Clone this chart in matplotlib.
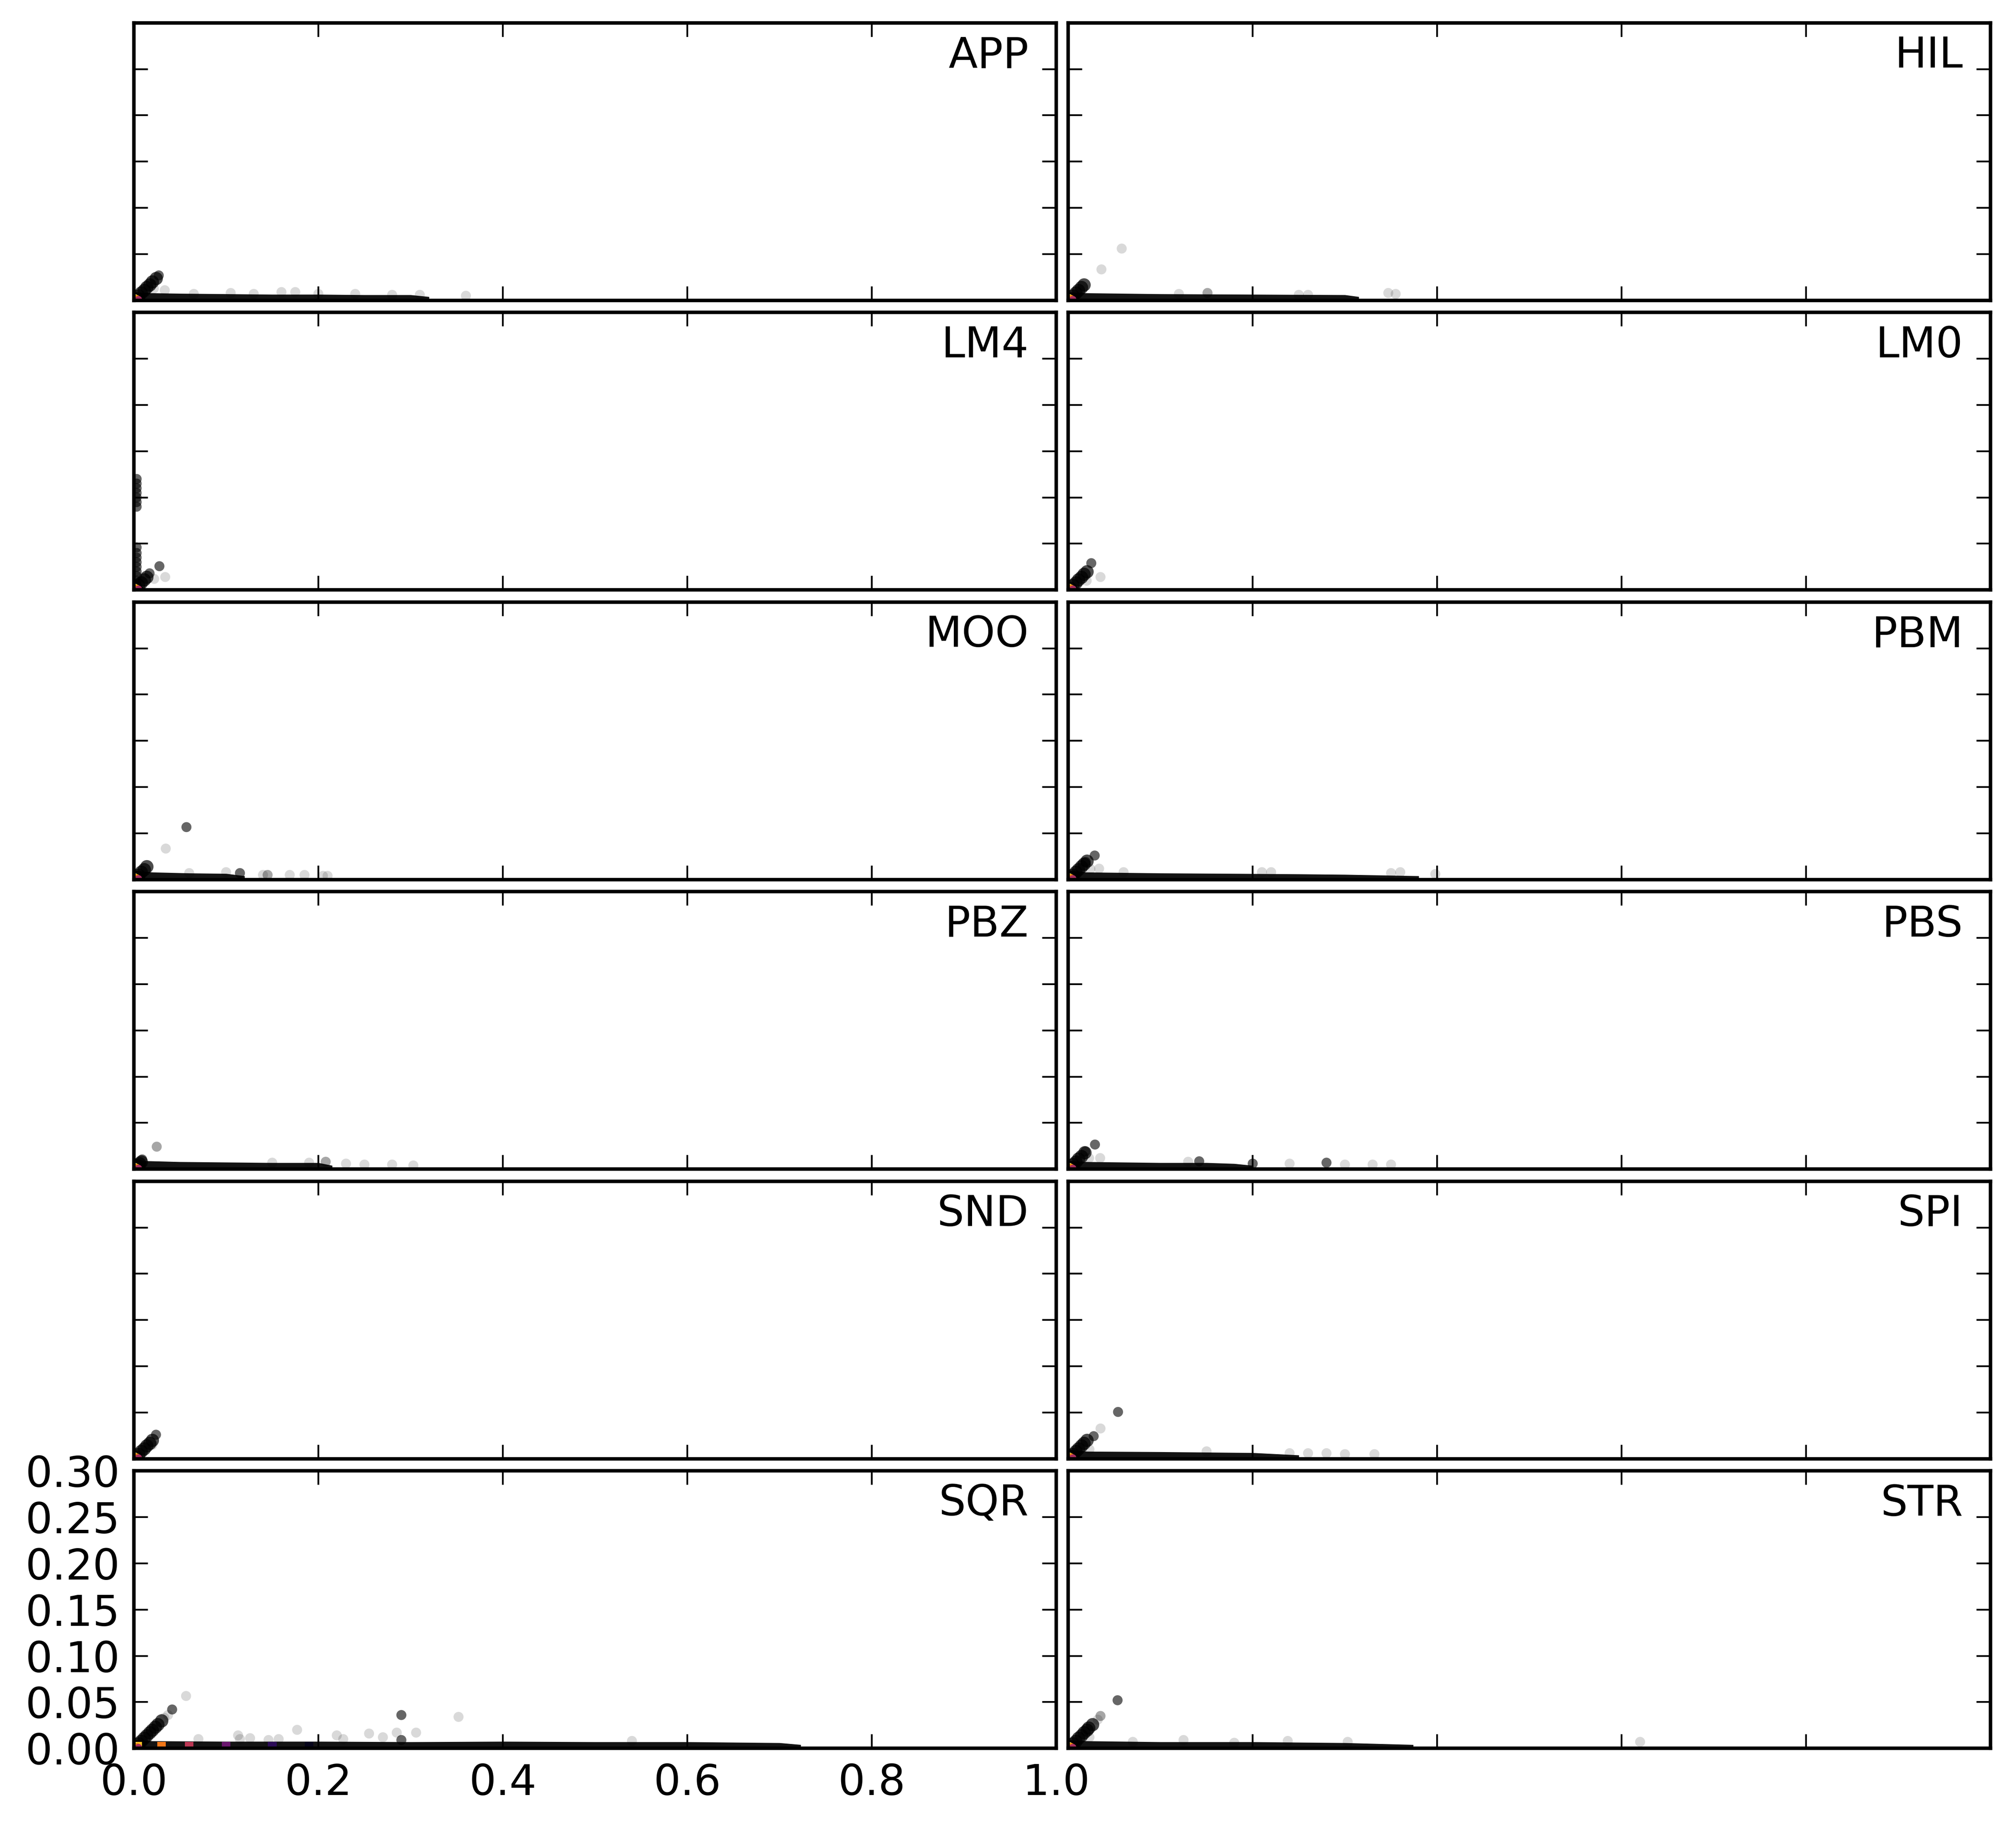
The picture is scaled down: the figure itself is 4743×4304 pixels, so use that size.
import numpy as np
import matplotlib
matplotlib.use("Agg")
import matplotlib.pyplot as plt

# panel names, row by row (left, right)
names = ["APP", "HIL", "LM4", "LM0", "MOO", "PBM",
         "PBZ", "PBS", "SND", "SPI", "SQR", "STR"]

# dense cluster along y = x near the origin
diag = [
    [0.002, 0.005, 0.008, 0.011, 0.014, 0.017, 0.020, 0.024],          # APP
    [0.002, 0.005, 0.008, 0.011, 0.014, 0.017],                        # HIL
    [0.002, 0.005, 0.008, 0.011, 0.014],                               # LM4
    [0.002, 0.005, 0.008, 0.011, 0.014, 0.017, 0.020],                 # LM0
    [0.002, 0.005, 0.008, 0.011, 0.014],                               # MOO
    [0.002, 0.005, 0.008, 0.011, 0.014, 0.017, 0.020],                 # PBM
    [0.002, 0.004, 0.006, 0.008],                                      # PBZ
    [0.002, 0.005, 0.008, 0.011, 0.014, 0.018],                        # PBS
    [0.002, 0.005, 0.008, 0.011, 0.014, 0.017, 0.020],                 # SND
    [0.002, 0.005, 0.008, 0.011, 0.014, 0.017, 0.020],                 # SPI
    [0.002, 0.005, 0.008, 0.011, 0.014, 0.017, 0.020, 0.023, 0.026, 0.030],  # SQR
    [0.002, 0.005, 0.008, 0.011, 0.014, 0.017, 0.020, 0.022, 0.026],   # STR
]

# upper edge of the dense band of points lying on y ~ 0
band_x = [
    [0, 0.02, 0.05, 0.10, 0.15, 0.20, 0.25, 0.30, 0.32],
    [0, 0.02, 0.10, 0.20, 0.30, 0.315],
    [0, 0.01],
    [0, 0.01],
    [0, 0.02, 0.06, 0.10, 0.12],
    [0, 0.02, 0.10, 0.18, 0.25, 0.30, 0.38],
    [0, 0.012, 0.05, 0.10, 0.15, 0.20, 0.215],
    [0, 0.02, 0.10, 0.15, 0.18, 0.20],
    [0, 0.008],
    [0, 0.02, 0.10, 0.20, 0.25],
    [0, 0.02, 0.10, 0.20, 0.30, 0.40, 0.50, 0.60, 0.70, 0.723],
    [0, 0.02, 0.10, 0.20, 0.30, 0.374],
]
band_y = [
    [0.009, 0.008, 0.0075, 0.007, 0.0065, 0.0065, 0.006, 0.006, 0.004],
    [0.009, 0.008, 0.007, 0.0065, 0.006, 0.004],
    [0.006, 0.003],
    [0.006, 0.003],
    [0.010, 0.008, 0.007, 0.0065, 0.004],
    [0.010, 0.008, 0.007, 0.0065, 0.006, 0.0055, 0.004],
    [0.012, 0.009, 0.008, 0.0075, 0.007, 0.007, 0.004],
    [0.009, 0.008, 0.007, 0.007, 0.006, 0.004],
    [0.006, 0.003],
    [0.010, 0.008, 0.0075, 0.0065, 0.004],
    [0.009, 0.008, 0.0075, 0.0075, 0.007, 0.0075, 0.007, 0.007, 0.006, 0.004],
    [0.009, 0.008, 0.007, 0.007, 0.006, 0.004],
]

# scattered points: x, y, shade (d = dark, m = mid, l = light)
pts_x = [
    [0.027, 0.0217, 0.0335, 0.065, 0.105, 0.13, 0.16, 0.175, 0.20, 0.24, 0.28, 0.31, 0.36],
    [0.036, 0.058, 0.151, 0.347, 0.355, 0.12, 0.25, 0.26],
    [0.0277, 0.017, 0.022, 0.034,
     0.003, 0.003, 0.003, 0.003, 0.003, 0.003, 0.003,
     0.003, 0.003, 0.003, 0.003, 0.003, 0.003, 0.003, 0.003, 0.003],
    [0.025, 0.035, 0.020],
    [0.057, 0.0346, 0.06, 0.10, 0.115, 0.14, 0.145, 0.169, 0.185, 0.205, 0.21],
    [0.0287, 0.019, 0.024, 0.0335, 0.06, 0.21, 0.22, 0.35, 0.36, 0.398],
    [0.0248, 0.009, 0.208, 0.23, 0.25, 0.28, 0.303, 0.15, 0.19],
    [0.029, 0.0185, 0.0346, 0.0226, 0.142, 0.28, 0.20, 0.24, 0.30, 0.33, 0.35, 0.13],
    [0.024, 0.020],
    [0.054, 0.035, 0.0276, 0.023, 0.24, 0.26, 0.28, 0.30, 0.332, 0.15],
    [0.0566, 0.0415, 0.037, 0.033, 0.29, 0.352, 0.177, 0.113, 0.22, 0.255, 0.285,
     0.306, 0.27, 0.126, 0.115, 0.07, 0.146, 0.157, 0.227, 0.29, 0.54],
    [0.0535, 0.035, 0.032, 0.023, 0.125, 0.238, 0.303, 0.62, 0.07, 0.18],
]
pts_y = [
    [0.027, 0.0129, 0.011, 0.007, 0.008, 0.007, 0.009, 0.009, 0.007, 0.007, 0.006, 0.006, 0.005],
    [0.0335, 0.056, 0.008, 0.008, 0.007, 0.007, 0.006, 0.006],
    [0.0257, 0.018, 0.012, 0.014,
     0.090, 0.095, 0.100, 0.105, 0.110, 0.115, 0.120,
     0.005, 0.010, 0.015, 0.020, 0.025, 0.030, 0.035, 0.040, 0.046],
    [0.029, 0.014, 0.010],
    [0.0567, 0.0335, 0.007, 0.008, 0.007, 0.005, 0.005, 0.005, 0.005, 0.004, 0.004],
    [0.026, 0.019, 0.0115, 0.0118, 0.008, 0.008, 0.008, 0.007, 0.008, 0.006],
    [0.0243, 0.0105, 0.008, 0.006, 0.005, 0.005, 0.004, 0.007, 0.007],
    [0.0266, 0.019, 0.012, 0.012, 0.0085, 0.007, 0.006, 0.006, 0.005, 0.005, 0.005, 0.008],
    [0.026, 0.015],
    [0.0506, 0.0327, 0.0244, 0.0101, 0.006, 0.006, 0.006, 0.005, 0.005, 0.008],
    [0.0566, 0.042, 0.036, 0.033, 0.036, 0.034, 0.020, 0.014, 0.014, 0.016, 0.017,
     0.017, 0.012, 0.011, 0.010, 0.010, 0.009, 0.010, 0.010, 0.009, 0.008],
    [0.052, 0.035, 0.031, 0.012, 0.009, 0.008, 0.007, 0.007, 0.007, 0.006],
]
pts_shade = [
    "dllllllllllll",
    "llmlllll",
    "ddll" "ddddddd" "ddddddddd",
    "dll",
    "dllldlmllll",
    "ddllllllll",
    "mdmllllll",
    "ddlldddlllll",
    "dl",
    "dldlllllll",
    "ldll" "dl" "lllllllllllll" "dl",
    "dmllllllll",
]

# small coloured density blob at the origin
kde_x = [0.001, 0.003, 0.005]
kde_y = [0.003, 0.002, 0.001]
kde_level = [0.95, 0.75, 0.45]
# wider coloured streak in SQR
sqr_kde_x = [0.004, 0.03, 0.06, 0.10, 0.15, 0.19]
sqr_kde_level = [0.85, 0.7, 0.5, 0.3, 0.15, 0.05]

shade_alpha = {"d": 0.6, "m": 0.35, "l": 0.15}

plt.rcParams.update({
    "font.size": 12,
    "font.family": "DejaVu Sans",
    "axes.linewidth": 1.0,
    "xtick.direction": "in",
    "ytick.direction": "in",
    "xtick.top": True,
    "ytick.right": True,
    "xtick.major.size": 4,
    "ytick.major.size": 4,
    "xtick.major.width": 0.5,
    "ytick.major.width": 0.5,
    "xtick.major.pad": 4,
    "ytick.major.pad": 4,
})

fig, axes = plt.subplots(6, 2, figsize=(4743 / 600, 4304 / 600), dpi=600)
fig.subplots_adjust(left=0.0664, right=0.9874, bottom=0.0441, top=0.9875,
                    wspace=0.013, hspace=0.0435)
cmap = plt.get_cmap("inferno")

for i, ax in enumerate(axes.flat):
    ax.fill_between(band_x[i], 0, band_y[i], color="black", alpha=0.92, lw=0)
    ax.scatter(diag[i], diag[i], s=14, color="black", alpha=0.7, lw=0)
    cols = [(0, 0, 0, shade_alpha[c]) for c in pts_shade[i]]
    ax.scatter(pts_x[i], pts_y[i], s=8, c=cols, lw=0)
    if names[i] == "SQR":
        ax.scatter(sqr_kde_x, [0.0025] * len(sqr_kde_x), s=6,
                   c=[cmap(v) for v in sqr_kde_level], lw=0, marker="s")
    ax.scatter(kde_x, kde_y, s=4, c=[cmap(v) for v in kde_level], lw=0)

    ax.text(0.97, 0.955, names[i], transform=ax.transAxes,
            ha="right", va="top", fontsize=12)
    ax.set_xlim(0, 1)
    ax.set_ylim(0, 0.3)
    ax.set_xticks([0.0, 0.2, 0.4, 0.6, 0.8, 1.0])
    ax.set_yticks([0.0, 0.05, 0.10, 0.15, 0.20, 0.25, 0.30])
    ax.set_xticklabels(["0.0", "0.2", "0.4", "0.6", "0.8", "1.0"])
    ax.set_yticklabels(["0.00", "0.05", "0.10", "0.15", "0.20", "0.25", "0.30"])
    if i != 10:
        ax.tick_params(labelbottom=False, labelleft=False)

fig.savefig("out.png", dpi=600, facecolor="white")
